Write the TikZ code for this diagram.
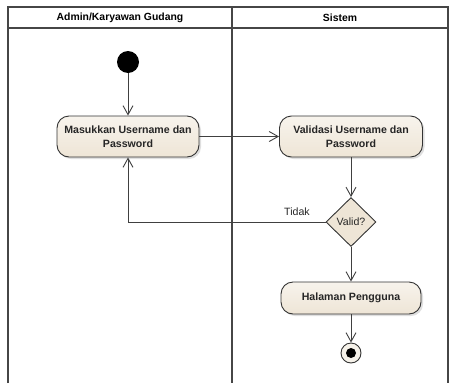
\documentclass[tikz,border=0pt]{standalone}
\usepackage{fontspec}
\setmainfont{Liberation Sans}
\usepackage{tikz}
\usetikzlibrary{shapes.geometric,arrows.meta,shadows}
\definecolor{actbeige}{RGB}{238,229,214}
\definecolor{lanegray}{RGB}{70,70,70}

\begin{document}
\begin{tikzpicture}[x=1pt,y=-1pt,
    lane/.style={draw=lanegray, line width=1.3pt},
    activity/.style={draw=black!80, line width=0.9pt, rounded corners=12pt,
        top color=actbeige!45!white, bottom color=actbeige, align=center,
        font=\fontsize{10.6}{14}\selectfont\bfseries, text=black!85,
        drop shadow={opacity=0.25, shadow xshift=2pt, shadow yshift=-2pt}},
    decision/.style={diamond, draw=black!80, line width=0.9pt, fill=actbeige,
        minimum width=50pt, minimum height=49pt, inner sep=0pt},
    flow/.style={draw=black!75, line width=0.9pt, -{Straight Barb[length=9pt,width=10pt]}}]
    \useasboundingbox (0,0) rectangle (449,383);

    % Swimlanes
    \draw[lane] (8,383) -- (8,7) -- (448,7) -- (448,383);
    \draw[lane] (8,28) -- (448,28);
    \draw[lane] (232,7) -- (232,383);
    \node[font=\fontsize{10.4}{12}\selectfont\bfseries] (laneadmin) at (120,17.5) {Admin/Karyawan Gudang};
    \node[font=\fontsize{10.4}{12}\selectfont\bfseries] (lanesistem) at (340,17.5) {Sistem};

    % Initial and final node
    \node[circle, fill=black, minimum size=22pt, inner sep=0pt] (init) at (128,62) {};
    \node[circle, draw=black!80, line width=0.9pt, fill=actbeige!50!white,
        minimum size=20pt, inner sep=0pt] (final) at (351,353) {};
    \fill[black] (final) circle (5);

    % Activities
    \node[activity, minimum width=142pt, minimum height=41pt] (masuk) at (128,136.5)
        {Masukkan Username dan\\Password};
    \node[activity, minimum width=143pt, minimum height=41pt] (validasi) at (351,136.5)
        {Validasi Username dan\\Password};
    \node[decision] (valid) at (351,222) {};
    \node[font=\fontsize{10.6}{12}\selectfont, text=black!85] (validtxt) at (valid) {Valid?};
    \node[activity, minimum width=140pt, minimum height=32pt] (halaman) at (351,298)
        {Halaman Pengguna};

    % Flows
    \draw[flow] (init) -- (masuk);
    \draw[flow] (masuk) -- (validasi);
    \draw[flow] (validasi) -- (valid);
    \draw[flow] (valid.west) -| (masuk.south);
    \node[font=\fontsize{10.6}{12}\selectfont, text=black!85] (tidak) at (297,212) {Tidak};
    \draw[flow] (valid) -- (halaman);
    \draw[flow] (halaman) -- (final);
\end{tikzpicture}
\end{document}
